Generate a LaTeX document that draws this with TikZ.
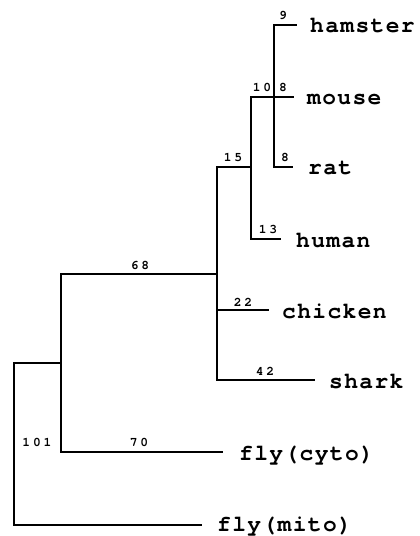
\documentclass[tikz,border=0pt]{standalone}
\usepackage{fontspec}
\newfontfamily\leaffont[LetterSpace=6,Ligatures={NoCommon,NoRequired,NoContextual},Extension=.otf]{texgyrecursor-bold}
\newfontfamily\numfont[LetterSpace=22,Extension=.otf]{texgyrecursor-bold}
\begin{document}
\begin{tikzpicture}[x=1bp,y=-1bp,
  branch/.style={line width=1.2bp, line cap=rect},
  leaf/.style={anchor=base west, inner sep=0pt, font=\leaffont\fontsize{23}{23}\selectfont},
  blen/.style={anchor=base, inner sep=0pt, font=\numfont\fontsize{13}{13}\selectfont}]
\useasboundingbox (0,0) rectangle (419,536);
% internal nodes
\coordinate (root) at (14,363);
\coordinate (n1) at (61,363);
\coordinate (n2) at (217,274);
\coordinate (n3) at (251,167);
\coordinate (n4) at (274,97);
% tips
\coordinate (tham) at (296,25);
\coordinate (tmouse) at (293,97);
\coordinate (trat) at (292,167);
\coordinate (thuman) at (280,239);
\coordinate (tchick) at (268,310);
\coordinate (tshark) at (314,380);
\coordinate (tcyto) at (222,452);
\coordinate (tmito) at (201,525);
\coordinate (jchick) at (217,310);
% branches
\draw[branch] (n1) -- (root) |- (tmito);
\draw[branch] (n2) -| (n1) |- (tcyto);
\draw[branch] (n3) -| (n2) |- (tshark);
\draw[branch] (jchick) -- (tchick);
\draw[branch] (n4) -| (n3) |- (thuman);
\draw[branch] (tham) -| (n4) |- (trat);
\draw[branch] (n4) -- (tmouse);
% leaf labels
\node[leaf] (lham) at ([xshift=14bp,yshift=-8bp]tham) {hamster};
\node[leaf] (lmouse) at ([xshift=14bp,yshift=-8bp]tmouse) {mouse};
\node[leaf] (lrat) at ([xshift=16bp,yshift=-8bp]trat) {rat};
\node[leaf] (lhuman) at ([xshift=16bp,yshift=-8bp]thuman) {human};
\node[leaf] (lchick) at ([xshift=14bp,yshift=-8bp]tchick) {chicken};
\node[leaf] (lshark) at ([xshift=15bp,yshift=-8bp]tshark) {shark};
\node[leaf] (lcyto) at ([xshift=17bp,yshift=-8bp]tcyto) {f{}l{}y(cyto)};
\node[leaf] (lmito) at ([xshift=16bp,yshift=-6bp]tmito) {f{}l{}y(mito)};
% branch lengths
\node[blen] (b68) at (140,269) {68};
\node[blen] (b70) at (139,446) {70};
\node[blen] (b101) at (37,446) {101};
\node[blen] (b22) at (243,306) {22};
\node[blen] (b42) at (265,375) {42};
\node[blen] (b15) at (233,162) {15};
\node[blen] (b13) at (268,233) {13};
\node[blen] (b10) at (262,92) {10};
\node[blen] (b8m) at (283,92) {8};
\node[blen] (b9) at (283,20) {9};
\node[blen] (b8r) at (285,162) {8};
\end{tikzpicture}
\end{document}
